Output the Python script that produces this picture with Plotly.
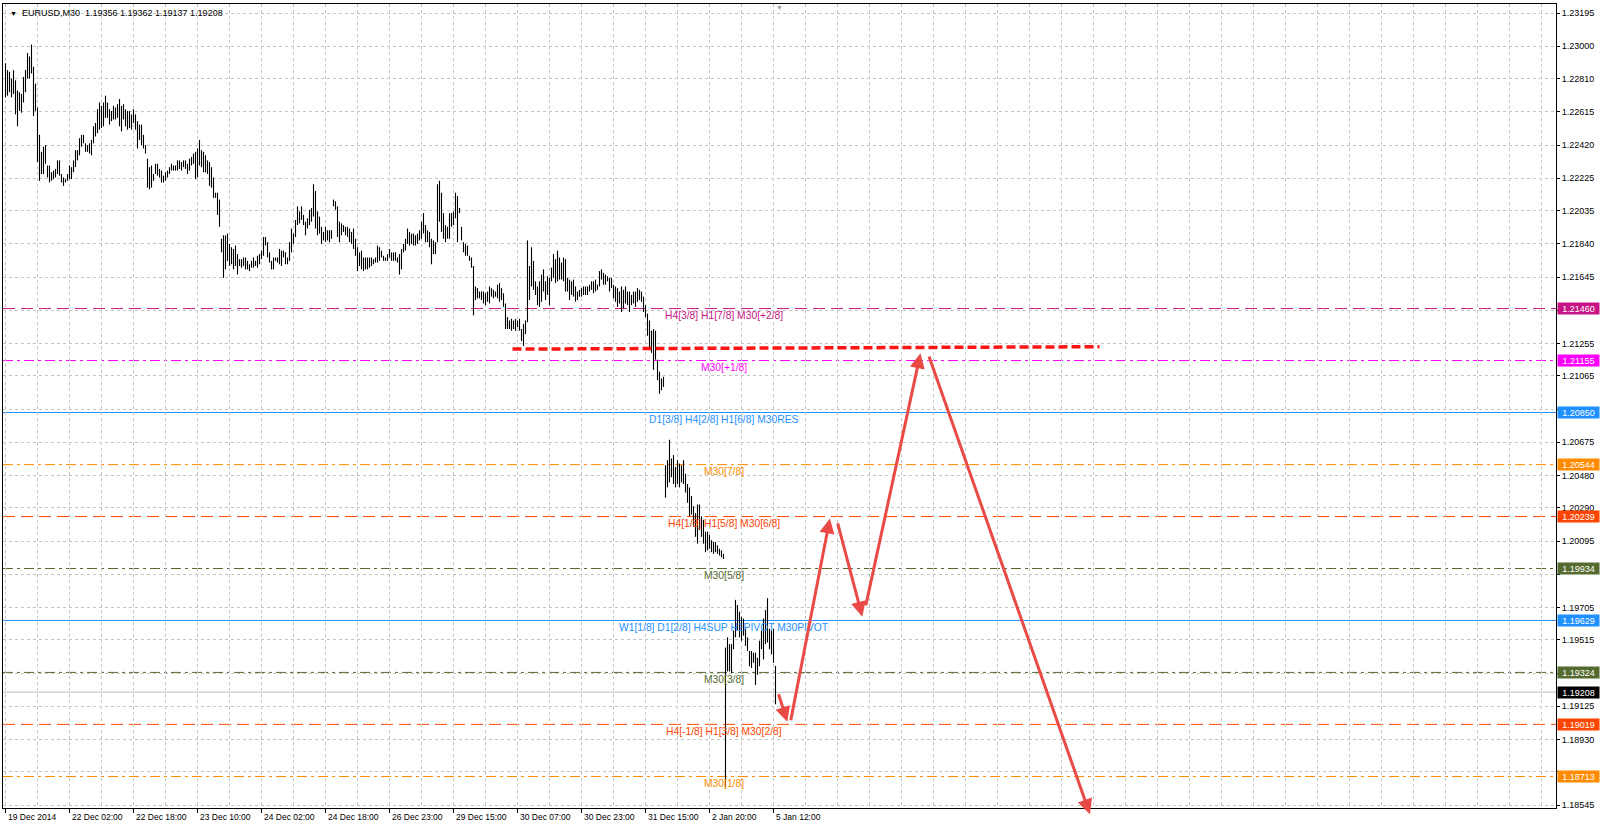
import plotly.graph_objects as go

# ---------------- data ----------------
highs = [
    1.2290, 1.2286, 1.2285, 1.2281, 1.2286, 1.2280, 1.2274, 1.2273, 1.2272, 1.2282,
    1.2286, 1.2296, 1.2294, 1.2301, 1.2288, 1.2278, 1.2264, 1.2248, 1.2238, 1.2241,
    1.2242, 1.2230, 1.2230, 1.2226, 1.2227, 1.2228, 1.2233, 1.2233, 1.2225, 1.2223,
    1.2222, 1.2225, 1.2230, 1.2229, 1.2233, 1.2239, 1.2239, 1.2246, 1.2248, 1.2248,
    1.2243, 1.2242, 1.2243, 1.2245, 1.2253, 1.2255, 1.2263, 1.2267, 1.2265, 1.2267,
    1.2271, 1.2267, 1.2263, 1.2262, 1.2265, 1.2264, 1.2266, 1.2269, 1.2265, 1.2266,
    1.2263, 1.2262, 1.2262, 1.2260, 1.2263, 1.2260, 1.2256, 1.2254, 1.2254, 1.2248,
    1.2242, 1.2234, 1.2229, 1.2230, 1.2225, 1.2231, 1.2231, 1.2228, 1.2227, 1.2224,
    1.2226, 1.2227, 1.2229, 1.2231, 1.2230, 1.2230, 1.2233, 1.2233, 1.2232, 1.2233,
    1.2233, 1.2231, 1.2234, 1.2235, 1.2237, 1.2238, 1.2240, 1.2245, 1.2239, 1.2238,
    1.2236, 1.2233, 1.2232, 1.2229, 1.2223, 1.2214, 1.2214, 1.2210, 1.2187, 1.2189,
    1.2189, 1.2190, 1.2184, 1.2182, 1.2181, 1.2183, 1.2178, 1.2175, 1.2175, 1.2176,
    1.2176, 1.2174, 1.2172, 1.2174, 1.2176, 1.2174, 1.2177, 1.2178,
    1.2180, 1.2188, 1.2188, 1.2185, 1.2179, 1.2174, 1.2176, 1.2176, 1.2176, 1.2181,
    1.2180, 1.2180, 1.2179, 1.2176, 1.2185, 1.2193, 1.2190, 1.2198, 1.2206, 1.2203,
    1.2206, 1.2201, 1.2197, 1.2199, 1.2204, 1.2205, 1.2219, 1.2215, 1.2203, 1.2200,
    1.2194, 1.2191, 1.2194, 1.2192, 1.2192, 1.2192, 1.2210, 1.2209, 1.2206, 1.2197,
    1.2196, 1.2195, 1.2194, 1.2194, 1.2193, 1.2191, 1.2193, 1.2187, 1.2182, 1.2179,
    1.2180, 1.2176, 1.2176, 1.2176, 1.2176, 1.2176, 1.2175, 1.2176, 1.2183, 1.2182,
    1.2180, 1.2177, 1.2176, 1.2178, 1.2181, 1.2179, 1.2179, 1.2179, 1.2176, 1.2178,
    1.2181, 1.2184, 1.2187, 1.2193, 1.2191, 1.2190, 1.2190, 1.2189, 1.2190, 1.2192,
    1.2197, 1.2202, 1.2195, 1.2192, 1.2191, 1.2187, 1.2186, 1.2185, 1.2219, 1.2221,
    1.2214, 1.2202, 1.2195, 1.2194, 1.2202, 1.2202, 1.2203, 1.2214, 1.2212, 1.2205,
    1.2194, 1.2185, 1.2184, 1.2183, 1.2177, 1.2176, 1.2171, 1.2159, 1.2158, 1.2156,
    1.2156, 1.2156, 1.2155, 1.2156, 1.2159, 1.2158, 1.2157, 1.2156, 1.2160, 1.2161,
    1.2158, 1.2155, 1.2149, 1.2141, 1.2139,
    1.2140, 1.2139, 1.2140, 1.2139, 1.2140, 1.2134, 1.2137, 1.2139, 1.2186, 1.2171,
    1.2182, 1.2174, 1.2162, 1.2159, 1.2162, 1.2166, 1.2169, 1.2162, 1.2165, 1.2164,
    1.2170, 1.2178, 1.2175, 1.2180, 1.2176, 1.2173, 1.2176, 1.2175, 1.2164, 1.2163,
    1.2162, 1.2163, 1.2159, 1.2156, 1.2157, 1.2158, 1.2159, 1.2159, 1.2159, 1.2160,
    1.2162, 1.2162, 1.2163, 1.2160, 1.2168, 1.2169, 1.2167, 1.2166, 1.2165, 1.2164,
    1.2164, 1.2160, 1.2159, 1.2158, 1.2156, 1.2159, 1.2157, 1.2159, 1.2156, 1.2156,
    1.2154, 1.2156, 1.2156, 1.2158, 1.2157, 1.2156, 1.2153, 1.2148, 1.2143, 1.2139,
    1.2133, 1.2134, 1.2133, 1.2116, 1.2109, 1.2105, 1.2106,
    1.2054, 1.2057, 1.2069, 1.2058, 1.2060, 1.2053, 1.2057, 1.2055, 1.2054, 1.2057,
    1.2049, 1.2043, 1.2041, 1.2036, 1.2030, 1.2026, 1.2031, 1.2031, 1.2024, 1.2022,
    1.2015, 1.2015, 1.2013, 1.2010, 1.2009, 1.2009, 1.2007, 1.2005, 1.2004, 1.2002,
    1.1947, 1.1953, 1.1949, 1.1949, 1.1957, 1.1975, 1.1972, 1.1968, 1.1965, 1.1964,
    1.1958, 1.1953, 1.1945, 1.1945, 1.1944, 1.1944, 1.1941, 1.1951, 1.1957, 1.1964,
    1.1969, 1.1976, 1.1958, 1.1957, 1.1958, 1.19362,
]

lows = [
    1.2270, 1.2271, 1.2273, 1.2270, 1.2272, 1.2260, 1.2253, 1.2262, 1.2261, 1.2267,
    1.2273, 1.2281, 1.2281, 1.2284, 1.2259, 1.2262, 1.2232, 1.2221, 1.2225, 1.2225,
    1.2231, 1.2223, 1.2220, 1.2221, 1.2222, 1.2223, 1.2225, 1.2224, 1.2220, 1.2218,
    1.2220, 1.2221, 1.2222, 1.2222, 1.2226, 1.2229, 1.2233, 1.2236, 1.2241, 1.2243,
    1.2238, 1.2238, 1.2237, 1.2236, 1.2243, 1.2247, 1.2249, 1.2251, 1.2252, 1.2253,
    1.2258, 1.2258, 1.2254, 1.2256, 1.2257, 1.2257, 1.2258, 1.2253, 1.2250, 1.2257,
    1.2253, 1.2251, 1.2252, 1.2251, 1.2255, 1.2251, 1.2240, 1.2245, 1.2242, 1.2240,
    1.2237, 1.2217, 1.2216, 1.2217, 1.2221, 1.2225, 1.2224, 1.2223, 1.2220, 1.2220,
    1.2221, 1.2223, 1.2225, 1.2227, 1.2227, 1.2227, 1.2227, 1.2228, 1.2227, 1.2229,
    1.2228, 1.2225, 1.2227, 1.2230, 1.2231, 1.2222, 1.2223, 1.2230, 1.2229, 1.2226,
    1.2226, 1.2225, 1.2218, 1.2217, 1.2211, 1.2211, 1.2201, 1.2194, 1.2179, 1.2164,
    1.2169, 1.2174, 1.2171, 1.2172, 1.2169, 1.2171, 1.2166, 1.2171, 1.2170, 1.2171,
    1.2169, 1.2169, 1.2168, 1.2170, 1.2170, 1.2171, 1.2170, 1.2172,
    1.2175, 1.2177, 1.2183, 1.2176, 1.2173, 1.2169, 1.2169, 1.2174, 1.2173, 1.2172,
    1.2171, 1.2176, 1.2172, 1.2172, 1.2174, 1.2179, 1.2184, 1.2188, 1.2195, 1.2196,
    1.2198, 1.2195, 1.2189, 1.2193, 1.2195, 1.2197, 1.2200, 1.2193, 1.2189, 1.2190,
    1.2184, 1.2186, 1.2185, 1.2186, 1.2185, 1.2187, 1.2206, 1.2204, 1.2188, 1.2185,
    1.2189, 1.2191, 1.2189, 1.2188, 1.2185, 1.2184, 1.2181, 1.2177, 1.2168, 1.2171,
    1.2169, 1.2168, 1.2169, 1.2169, 1.2170, 1.2171, 1.2172, 1.2173, 1.2173, 1.2174,
    1.2176, 1.2174, 1.2174, 1.2174, 1.2176, 1.2174, 1.2174, 1.2174, 1.2173, 1.2166,
    1.2169, 1.2179, 1.2180, 1.2184, 1.2183, 1.2184, 1.2183, 1.2183, 1.2184, 1.2186,
    1.2187, 1.2190, 1.2185, 1.2185, 1.2182, 1.2172, 1.2178, 1.2178, 1.2185, 1.2197,
    1.2191, 1.2187, 1.2185, 1.2187, 1.2187, 1.2194, 1.2195, 1.2199, 1.2185, 1.2202,
    1.2186, 1.2179, 1.2177, 1.2177, 1.2174, 1.2170, 1.2142, 1.2151, 1.2152, 1.2152,
    1.2151, 1.2149, 1.2148, 1.2150, 1.2149, 1.2153, 1.2152, 1.2153, 1.2152, 1.2150,
    1.2151, 1.2147, 1.2134, 1.2134, 1.2134,
    1.2133, 1.2134, 1.2133, 1.2135, 1.2133, 1.2127, 1.2124, 1.2131, 1.2138, 1.2151,
    1.2159, 1.2157, 1.2154, 1.2148, 1.2147, 1.2150, 1.2156, 1.2151, 1.2154, 1.2148,
    1.2162, 1.2164, 1.2161, 1.2162, 1.2163, 1.2163, 1.2162, 1.2156, 1.2156, 1.2151,
    1.2154, 1.2153, 1.2150, 1.2151, 1.2153, 1.2153, 1.2154, 1.2154, 1.2154, 1.2156,
    1.2157, 1.2155, 1.2156, 1.2157, 1.2159, 1.2163, 1.2160, 1.2160, 1.2162, 1.2156,
    1.2158, 1.2152, 1.2150, 1.2147, 1.2149, 1.2144, 1.2146, 1.2149, 1.2148, 1.2144,
    1.2148, 1.2149, 1.2147, 1.2150, 1.2151, 1.2150, 1.2144, 1.2141, 1.2130, 1.2122,
    1.2120, 1.2110, 1.2116, 1.2104, 1.2096, 1.2098, 1.2100,
    1.2035, 1.2041, 1.2044, 1.2047, 1.2043, 1.2041, 1.2043, 1.2041, 1.2044, 1.2043,
    1.2038, 1.2032, 1.2024, 1.2025, 1.2018, 1.2012, 1.2008, 1.2016, 1.2012, 1.2008,
    1.2003, 1.2004, 1.2005, 1.2003, 1.2002, 1.2003, 1.2002, 1.2001, 1.2000, 1.1999,
    1.1865, 1.1933, 1.1933, 1.1932, 1.1946, 1.1953, 1.1957, 1.1953, 1.1951, 1.1954,
    1.1948, 1.1945, 1.1936, 1.1935, 1.1938, 1.1925, 1.1931, 1.1936, 1.1946, 1.1940,
    1.1949, 1.1950, 1.1946, 1.1943, 1.1938, 1.19137,
]

price_ticks = [1.23195, 1.23000, 1.22810, 1.22615, 1.22420, 1.22225, 1.22035,
               1.21840, 1.21645, 1.21450, 1.21255, 1.21065, 1.20870, 1.20675,
               1.20480, 1.20290, 1.20095, 1.19900, 1.19705, 1.19515, 1.19320,
               1.19125, 1.18930, 1.18740, 1.18545]
# tick labels that sit under the coloured price boxes on the scale
covered_ticks = [1.21450, 1.20870, 1.19900, 1.19320, 1.18740]

time_labels = ["19 Dec 2014", "22 Dec 02:00", "22 Dec 18:00", "23 Dec 10:00",
               "24 Dec 02:00", "24 Dec 18:00", "26 Dec 23:00", "29 Dec 15:00",
               "30 Dec 07:00", "30 Dec 23:00", "31 Dec 15:00", "2 Jan 20:00",
               "5 Jan 12:00"]
time_label_bars = [0, 32, 64, 96, 128, 160, 192, 224, 256, 288, 320, 352, 384]

level_prices = [1.21460, 1.21155, 1.20850, 1.20544, 1.20239,
                1.19934, 1.19629, 1.19324, 1.19019, 1.18713]
level_names = ["H4[3/8] H1[7/8] M30[+2/8]", "M30[+1/8]",
               "D1[3/8] H4[2/8] H1[6/8] M30RES", "M30[7/8]",
               "H4[1/8] H1[5/8] M30[6/8]", "M30[5/8]",
               "W1[1/8] D1[2/8] H4SUP H1PIVOT M30PIVOT", "M30[3/8]",
               "H4[-1/8] H1[3/8] M30[2/8]", "M30[1/8]"]
bid_price = 1.19208
title_values = ["1.19356", "1.19362", "1.19137", "1.19208"]

resist_x = [253.5, 547.0]
resist_y = [1.21222, 1.21236]

arrow_tail_x = [386.3, 392.5, 415.9, 430.0, 461.5]
arrow_tail_y = [1.19205, 1.19034, 1.20208, 1.19709, 1.21187]
arrow_head_x = [390.9, 412.2, 428.4, 457.5, 542.2]
arrow_head_y = [1.19034, 1.20228, 1.19651, 1.21197, 1.18492]

# ---------------- styles ----------------
FONT = "Liberation Sans, Arial, sans-serif"
level_colors = ["#C71585", "#FF00FF", "#1E90FF", "#FF8C00", "#FF4500",
                "#556B2F", "#1E90FF", "#556B2F", "#FF4500", "#FF8C00"]
DASH = "12px,6px"
DASHDOT = "10px,4px,3px,4px"
level_dashes = [DASH, DASHDOT, "solid", DASHDOT, DASH,
                DASHDOT, "solid", DASHDOT, DASH, DASHDOT]
GRID = "#C4C4C4"
GRIDDASH = "3px,3px"
ARROW_COLOR = "#EA4A46"

n_bars = len(highs)
bx, by = [], []
for i in range(n_bars):
    bx += [i, i, None]
    by += [lows[i], highs[i], None]

fig = go.Figure()
fig.add_trace(go.Scatter(x=bx, y=by, mode="lines",
                         line=dict(color="black", width=1.1),
                         hoverinfo="skip", showlegend=False))
fig.add_trace(go.Scatter(x=resist_x, y=resist_y, mode="lines",
                         line=dict(color="rgba(255,0,0,0.92)", width=3.5, dash="9px,4px"),
                         hoverinfo="skip", showlegend=False))

# level lines
for p, c, d in zip(level_prices, level_colors, level_dashes):
    fig.add_shape(type="line", xref="paper", x0=0, x1=1, yref="y", y0=p, y1=p,
                  line=dict(color=c, width=1, dash=d), layer="below")
fig.add_shape(type="line", xref="paper", x0=0, x1=1, yref="y", y0=bid_price, y1=bid_price,
              line=dict(color="#BDBDBD", width=1), layer="below")

# level texts
for p, c, t in zip(level_prices, level_colors, level_names):
    fig.add_annotation(x=359, y=p, xref="x", yref="y", text=t, showarrow=False,
                       font=dict(family=FONT, size=10.3, color=c),
                       xanchor="center", yanchor="middle", yshift=-7)

# price boxes on right axis
for p, c in zip(level_prices + [bid_price], level_colors + ["#000000"]):
    fig.add_annotation(x=1, y=p, xref="paper", yref="y", text=f"{p:.5f}",
                       showarrow=False, font=dict(family=FONT, size=9, color="white"),
                       bgcolor=c, xanchor="left", yanchor="middle", xshift=1,
                       width=39, height=9, borderpad=1, align="center")

# arrows
for tx, ty, hx, hy in zip(arrow_tail_x, arrow_tail_y, arrow_head_x, arrow_head_y):
    fig.add_annotation(x=hx, y=hy, ax=tx, ay=ty, xref="x", yref="y", axref="x", ayref="y",
                       text="", showarrow=True, arrowhead=2, arrowsize=1,
                       arrowwidth=3, arrowcolor=ARROW_COLOR, standoff=0)

# time labels
for b, t in zip(time_label_bars, time_labels):
    fig.add_annotation(x=b, y=0, xref="x", yref="paper", text=t, showarrow=False,
                       font=dict(family=FONT, size=8.5, color="black"),
                       xanchor="left", yanchor="top", xshift=0, yshift=-2)

# title
fig.add_annotation(x=0.0034, y=0.9888, xref="paper", yref="paper", text="\u25BC",
                   showarrow=False, font=dict(family=FONT, size=7, color="black"),
                   xanchor="left", yanchor="middle")
fig.add_annotation(x=0.011, y=0.9888, xref="paper", yref="paper",
                   text="EURUSD,M30\u00a0\u00a0" + " ".join(title_values),
                   showarrow=False, font=dict(family=FONT, size=9, color="black"),
                   xanchor="left", yanchor="middle")
# chart shift marker
fig.add_annotation(x=0.4997, y=1, xref="paper", yref="paper", text="\u25BC",
                   showarrow=False, font=dict(family=FONT, size=7, color="#A0A0A0"),
                   xanchor="center", yanchor="top", yshift=2)

tick_text = ["" if v in covered_ticks else f"{v:.5f}" for v in price_ticks]

fig.update_layout(
    width=1600, height=828,
    margin=dict(l=3, r=44, t=4, b=20, autoexpand=False),
    paper_bgcolor="white", plot_bgcolor="white",
    showlegend=False, hovermode=False,
    xaxis=dict(range=[-1.25, 775.25], tickmode="array", tickvals=time_label_bars,
               showticklabels=False, ticks="outside", ticklen=4, tickcolor="black",
               showgrid=True, gridcolor=GRID, griddash=GRIDDASH, gridwidth=1,
               minor=dict(tickmode="array", tickvals=list(range(0, 776, 16)),
                          showgrid=True, gridcolor=GRID, griddash=GRIDDASH, ticks=""),
               showline=True, mirror=True, linecolor="black", linewidth=1,
               zeroline=False, fixedrange=True),
    yaxis=dict(range=[1.18528, 1.23248], side="right", tickmode="array",
               tickvals=price_ticks, ticktext=tick_text,
               ticks="outside", ticklen=3, tickcolor="black",
               tickfont=dict(family=FONT, size=9, color="black"),
               showgrid=True, gridcolor=GRID, griddash=GRIDDASH, gridwidth=1,
               showline=True, mirror=True, linecolor="black", linewidth=1,
               zeroline=False, fixedrange=True, automargin=False),
)

fig.write_html(
    "out.html",
    config={"displayModeBar": False, "staticPlot": True},
    post_script="document.body.style.margin='0';document.body.style.overflow='hidden';"
                "document.documentElement.style.overflow='hidden';",
)
